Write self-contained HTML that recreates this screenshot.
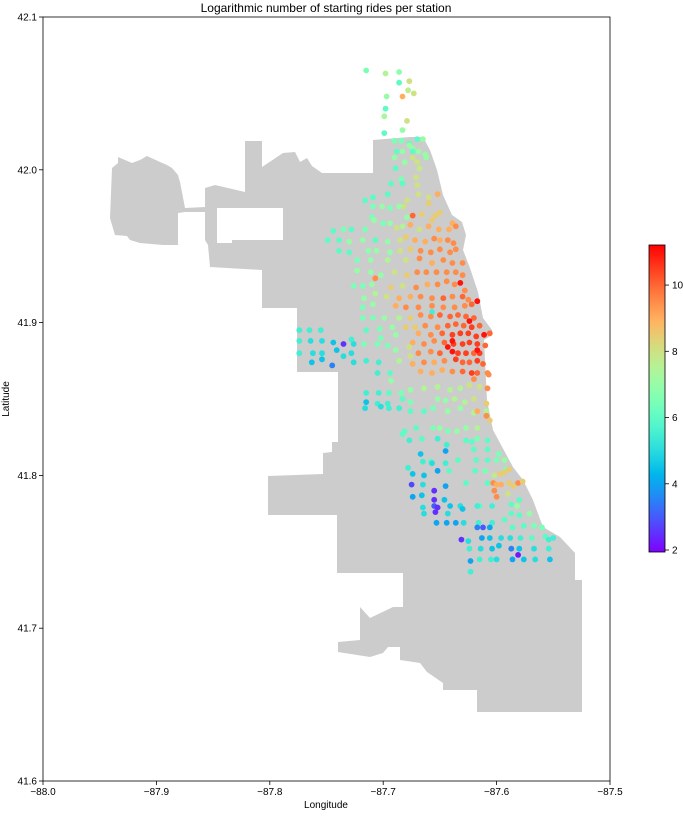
<!DOCTYPE html>
<html><head><meta charset="utf-8">
<style>
html,body{margin:0;padding:0;background:#fff;}
svg{display:block;font-family:"Liberation Sans","DejaVu Sans",sans-serif;}
</style></head>
<body>
<svg id="chart" width="683" height="816" viewBox="0 0 683 816" xmlns="http://www.w3.org/2000/svg">
<text x="326" y="12" font-size="12" text-anchor="middle" fill="#000">Logarithmic number of starting rides per station</text>
<g id="map">
<path fill="#cccccc" d="M112,168 L118,163 L118,157 L125,160 L132,163 L140,160 L147,156 L160,162 L167,165 L172,168 L178,175 L180,182 L185,208 L205,207 L205,212 L185,212 L178,213 L178,245 L163,245 L140,243 L130,240 L127,236 L115,235 L112,225 L110,218 Z"/>
<path fill="#cccccc" fill-rule="evenodd" d="M245,141 L262,141 L262,167 L283,153 L295,152 L300,162 L307,158 L312,166 L322,173 L373,173 L373,140 L410,137 L423,137 L430,150 L437,170 L443,195 L452,215 L462,222 L466,235 L463,250 L470,268 L478,292 L483,318 L492,330 L492,335 L484,340 L485,360 L487,400 L493,430 L513,467 L523,480 L533,500 L543,527 L560,537 L575,553 L575,580 L582,580 L582,712 L477,712 L477,690 L443,690 L443,683 L427,672 L420,663 L400,660 L400,647 L388,647 L383,653 L370,657 L338,652 L338,642 L360,640 L360,607 L370,618 L393,607 L403,607 L403,573 L337,573 L337,515 L268,515 L268,476 L323,474 L323,453 L332,452 L332,442 L338,442 L338,372 L297,372 L297,308 L262,308 L262,270 L210,267 L208,245 L205,240 L205,188 L215,185 L245,192 Z M217,208 L283,208 L283,240 L232,240 L232,243 L217,243 Z"/>
</g>
<g id="points"></g>
<rect x="43" y="17" width="567" height="764" fill="none" stroke="#000" stroke-width="0.8"/>
<g id="xaxis"></g>
<g id="yaxis"></g>
<text x="326" y="808" font-size="10" text-anchor="middle">Longitude</text>
<text x="9" y="399" font-size="10" text-anchor="middle" transform="rotate(-90 9 399)">Latitude</text>
<defs><linearGradient id="cbg" x1="0" y1="1" x2="0" y2="0"></linearGradient></defs>
<g id="cbar"></g>
</svg>
<script>
const xTicks=[-88.0,-87.9,-87.8,-87.7,-87.6,-87.5];
const yTicks=[41.6,41.7,41.8,41.9,42.0,42.1];
const cTicks=[2,4,6,8,10];
const lons=[
-87.715,-87.698,-87.686,-87.686,-87.677,-87.673,-87.678,-87.683,-87.697,-87.698,-87.699,-87.679,-87.699,-87.683,
-87.690,-87.684,-87.677,-87.670,-87.665,-87.677,-87.674,-87.688,-87.683,-87.674,-87.669,-87.663,-87.690,-87.674,-87.662,-87.681,-87.689,-87.670,-87.668,-87.671,-87.684,-87.693,-87.683,-87.670,-87.652,-87.669,
-87.716,-87.709,-87.696,-87.679,-87.682,-87.660,-87.660,-87.709,-87.701,-87.694,-87.686,
-87.679,-87.674,-87.666,-87.654,-87.650,-87.657,-87.639,-87.636,-87.710,-87.708,-87.700,-87.694,-87.688,-87.683,-87.676,-87.668,-87.660,-87.651,-87.642,-87.744,-87.735,-87.728,-87.716,
-87.749,-87.739,-87.730,-87.718,-87.707,-87.696,-87.685,-87.680,-87.672,-87.663,-87.655,-87.650,-87.643,-87.638,
-87.739,-87.730,-87.713,-87.706,-87.694,-87.685,-87.676,-87.667,-87.658,-87.650,-87.641,-87.636,
-87.723,-87.711,-87.696,-87.680,-87.668,-87.657,-87.647,-87.639,-87.630,
-87.723,-87.711,-87.702,-87.690,-87.679,-87.670,-87.662,-87.653,-87.644,-87.636,-87.630,-87.632,-87.707,
-87.726,-87.718,-87.710,-87.693,-87.683,-87.671,-87.661,-87.652,-87.644,-87.637,-87.628,
-87.707,-87.697,-87.686,-87.676,-87.667,-87.657,-87.647,-87.639,-87.630,-87.625,-87.717,
-87.718,-87.709,-87.689,-87.680,-87.669,-87.657,-87.647,-87.637,-87.628,-87.622,-87.617,-87.657,
-87.718,-87.709,-87.699,-87.686,-87.676,-87.667,-87.658,-87.650,-87.641,-87.634,-87.627,-87.620,
-87.715,-87.703,-87.692,-87.680,-87.672,-87.663,-87.652,-87.643,-87.636,-87.629,-87.622,-87.615,-87.624,
-87.669,-87.658,-87.648,-87.639,-87.632,-87.625,-87.618,-87.611,-87.606,
-87.674,-87.664,-87.655,-87.646,-87.643,-87.638,-87.630,-87.624,-87.617,-87.610,-87.639,
-87.669,-87.658,-87.650,-87.639,-87.634,-87.627,-87.620,-87.615,-87.617,
-87.664,-87.655,-87.646,-87.636,-87.630,-87.624,-87.617,-87.612,
-87.667,-87.657,-87.648,-87.639,-87.630,-87.622,-87.617,-87.608,-87.620,-87.607,
-87.774,-87.765,-87.755,-87.774,-87.764,-87.754,-87.744,-87.735,-87.726,-87.717,-87.774,-87.762,-87.754,-87.741,-87.735,-87.728,-87.763,-87.754,-87.745,-87.726,-87.715,-87.704,-87.705,-87.696,-87.702,-87.689,-87.728,
-87.705,-87.694,-87.693,-87.689,-87.686,-87.677,-87.676,-87.674,
-87.715,-87.704,-87.695,-87.684,-87.676,-87.664,-87.652,-87.641,-87.632,-87.624,-87.615,-87.608,
-87.715,-87.705,-87.696,-87.683,-87.676,-87.652,-87.645,-87.637,-87.628,-87.620,
-87.716,-87.702,-87.695,-87.686,-87.676,-87.664,-87.656,-87.643,-87.632,-87.620,-87.609,-87.606,-87.617,-87.609,
-87.683,-87.681,-87.671,-87.656,-87.650,-87.643,-87.635,-87.627,-87.617,-87.609,
-87.677,-87.666,-87.652,-87.644,-87.627,-87.622,-87.617,-87.608,
-87.667,-87.658,-87.645,-87.620,-87.608,-87.598,
-87.678,-87.665,-87.657,-87.645,-87.634,-87.618,-87.608,-87.600,-87.593,-87.592,
-87.674,-87.664,-87.652,-87.642,-87.619,-87.610,-87.602,-87.597,-87.593,-87.589,
-87.675,-87.665,-87.655,-87.645,-87.627,-87.608,-87.603,-87.600,-87.596,-87.589,-87.581,-87.585,-87.577,
-87.674,-87.666,-87.655,-87.646,-87.602,-87.600,-87.590,
-87.665,-87.655,-87.652,-87.641,-87.632,-87.615,-87.604,-87.587,-87.582,-87.580,
-87.664,-87.654,-87.643,-87.630,-87.617,
-87.653,-87.644,-87.636,-87.629,-87.616,-87.604,-87.593,-87.587,-87.580,-87.571,
-87.617,-87.612,-87.606,-87.586,-87.576,-87.567,-87.560,-87.550,
-87.631,-87.625,-87.613,-87.606,-87.596,-87.588,-87.579,-87.569,-87.557,-87.554,
-87.624,-87.614,-87.604,-87.598,-87.587,-87.580,-87.581,-87.567,-87.554,
-87.623,-87.615,-87.605,-87.600,-87.586,-87.576,-87.566,-87.553,-87.623
];
const lats=[
42.065,42.063,42.064,42.057,42.058,42.050,42.052,42.048,42.048,42.040,42.035,42.032,42.024,42.026,
42.019,42.019,42.017,42.020,42.020,42.016,42.014,42.012,42.012,42.012,42.012,42.010,42.008,42.008,42.008,42.005,42.001,42.005,42.001,41.995,41.994,41.991,41.991,41.990,41.984,41.984,
41.980,41.982,41.984,41.980,41.976,41.978,41.982,41.976,41.976,41.975,41.976,
41.969,41.970,41.971,41.970,41.972,41.967,41.965,41.963,41.969,41.967,41.965,41.965,41.962,41.963,41.964,41.961,41.963,41.961,41.961,41.960,41.961,41.961,41.961,
41.954,41.954,41.953,41.954,41.954,41.953,41.954,41.956,41.954,41.953,41.955,41.954,41.954,41.952,
41.947,41.946,41.947,41.947,41.946,41.947,41.948,41.947,41.946,41.948,41.946,41.948,
41.941,41.941,41.941,41.941,41.942,41.939,41.941,41.939,41.939,
41.934,41.933,41.931,41.933,41.931,41.933,41.933,41.933,41.933,41.933,41.931,41.926,41.929,
41.924,41.924,41.925,41.923,41.924,41.923,41.925,41.925,41.927,41.925,41.921,
41.919,41.917,41.916,41.917,41.917,41.916,41.916,41.917,41.917,41.915,41.916,
41.910,41.912,41.911,41.910,41.910,41.911,41.910,41.910,41.911,41.912,41.914,41.907,
41.903,41.903,41.903,41.903,41.903,41.905,41.904,41.905,41.904,41.905,41.904,41.903,
41.895,41.896,41.897,41.897,41.897,41.898,41.897,41.898,41.899,41.898,41.897,41.898,41.901,
41.893,41.892,41.893,41.892,41.893,41.893,41.891,41.892,41.893,
41.887,41.886,41.888,41.887,41.884,41.886,41.886,41.887,41.886,41.885,41.888,
41.880,41.881,41.880,41.881,41.880,41.880,41.880,41.880,41.882,
41.874,41.874,41.875,41.876,41.874,41.874,41.875,41.873,
41.868,41.867,41.869,41.868,41.868,41.867,41.867,41.867,41.863,41.866,
41.895,41.895,41.895,41.888,41.888,41.888,41.887,41.886,41.886,41.886,41.880,41.880,41.880,41.882,41.878,41.880,41.874,41.876,41.872,41.874,41.875,41.874,41.886,41.885,41.890,41.892,41.889,
41.867,41.867,41.862,41.882,41.875,41.884,41.878,41.873,
41.854,41.854,41.854,41.854,41.856,41.857,41.858,41.856,41.857,41.859,41.858,41.857,
41.848,41.847,41.847,41.850,41.848,41.850,41.849,41.850,41.848,41.850,
41.844,41.845,41.844,41.844,41.842,41.842,41.844,41.842,41.844,41.841,41.842,41.836,41.842,41.847,
41.827,41.829,41.831,41.831,41.831,41.829,41.829,41.831,41.831,41.839,
41.823,41.824,41.824,41.820,41.823,41.822,41.824,41.823,
41.814,41.809,41.816,41.817,41.817,41.814,
41.805,41.809,41.808,41.808,41.810,41.810,41.810,41.810,41.810,41.804,
41.801,41.800,41.803,41.803,41.803,41.803,41.800,41.801,41.802,41.804,
41.794,41.794,41.790,41.793,41.795,41.795,41.795,41.794,41.794,41.795,41.795,41.793,41.796,
41.786,41.787,41.784,41.784,41.790,41.786,41.788,
41.779,41.780,41.779,41.780,41.780,41.780,41.780,41.781,41.780,41.784,
41.775,41.776,41.775,41.778,41.780,
41.769,41.769,41.769,41.769,41.769,41.769,41.771,41.775,41.774,41.775,
41.766,41.766,41.766,41.766,41.767,41.767,41.766,41.759,
41.758,41.757,41.759,41.759,41.759,41.759,41.759,41.759,41.760,41.758,
41.752,41.752,41.752,41.754,41.752,41.752,41.748,41.752,41.752,
41.744,41.745,41.745,41.745,41.745,41.745,41.745,41.745,41.737
];
const vals=[
6.5,7.5,6.8,6,8,8,7.7,9,7,6,7.3,8,6,7,
6.5,6.5,6,6,7,7,7,6,7,6,7,7,7,8,7,7,6,8,7.8,8,6.5,6,6,8,9,8,
6,6,6,8,8,8.5,8,6.5,7,6.5,7,
7,10,8.5,8.5,8.5,8.5,9,9.5,6.5,7,6.5,7,8,7.5,9,8,9,9,9,6,6.5,6,6.5,
6,6,7,7,6,7,8,8.5,9,9,9.5,9,9.5,9.5,
6,6,6.8,7,7,8,8.5,9.5,9.5,9.5,9.5,9.5,
6.5,7,7.5,8,9.5,9,9.5,9.5,9.5,
7,7,7,8,8.5,9.5,9.5,9.5,9.5,9.5,9.5,11,9.5,
6.5,6.5,7,8.5,8,9.5,9,9.5,9.5,9.5,9.5,
7.5,8,9,9,9.5,9.5,10,9.5,10,9.5,7,
6.5,7,9,9.5,9.5,9.5,9.5,9.5,9.5,10,11,5.5,
6.5,6.5,7,7.5,8.5,9.5,9.5,10,10,10,10,10,
6,6.5,7,8.5,8.5,9.5,9.5,10,10,10,10.5,10,11,
9,9.5,10,10.5,10.5,10.5,10.5,11,10,
9,9.5,9.5,10,11,10.5,10.5,10.5,10.5,10,11,
9.5,9.5,10,11,10.5,10.5,10,10.5,11,
9.5,9,9.5,10.5,10,10,10.5,10,
9,9,9,9.5,10,10.5,10,9.5,9.5,9.5,
5.5,5.5,5.5,5.5,5,5,4.5,2.5,5,6.5,5.5,5,5,4.5,5,5,4.5,4.5,3.5,5,5.5,5.5,6.5,6.5,6.5,7,5.5,
5.5,6,7,7,7.5,8,8,9,
5.5,5.5,6,6.5,7,7.5,7.5,7.5,7.5,8,8,9.5,
4.5,5.5,5.5,6,6.5,7,7,7.5,7.5,8,
5,5,5.5,5.5,6,6,6.5,7,7,7.5,7.5,8.5,9,8.5,
6,6,6,6.5,7,6.5,7,7,7.5,9.5,
5.5,6,5.5,5.5,6,6,6.5,6,
4.5,6,4,6,6,6.5,
5.5,5.5,5,5.5,6,6,6,6.5,7,6.5,
4.5,4.5,4,6,6,6.5,7.8,8.5,8.5,8.5,
2.8,5,2.5,4,6,6,9.5,9,9,8.5,9.5,8.5,8.5,
4,4.5,2.5,4.5,9.5,9.5,8,
5,3,2.5,4.5,5,6,5.5,6,7,6,
5,2.5,5,4.5,5.5,
4,4,4,5,5.5,5.5,6,6,6,7,
3.5,3,4,6,6,6.5,6.5,5.5,
2.5,5,4,4.5,5,5,5.5,6,6,5.5,
5.5,5,4.5,4.5,3.5,4.5,2.2,5,5.5,
4,5.5,5.5,5,4,4.5,5,4.5,5.5
];
const NS='http://www.w3.org/2000/svg';
const X0=43,X1=610,Y0=781,Y1=17;
const lonMin=-88.0,lonMax=-87.5,latMin=41.6,latMax=42.1;
const vMin=1.94,vMax=11.21;
function xs(l){return X0+(l-lonMin)/(lonMax-lonMin)*(X1-X0);}
function ys(l){return Y0-(l-latMin)/(latMax-latMin)*(Y0-Y1);}
function rainbow(t){t=Math.max(0,Math.min(1,t));
 const r=Math.min(1,Math.abs(2*t-0.5)),g=Math.sin(Math.PI*t),b=Math.cos(Math.PI*t/2);
 return 'rgb('+Math.round(r*255)+','+Math.round(g*255)+','+Math.round(b*255)+')';}
function mk(tag,attrs,parent){const e=document.createElementNS(NS,tag);for(const k in attrs)e.setAttribute(k,attrs[k]);parent.appendChild(e);return e;}
const pg=document.getElementById('points');
for(let i=0;i<lons.length;i++){
 const c=mk('circle',{cx:xs(lons[i]).toFixed(1),cy:ys(lats[i]).toFixed(1),r:2.9,fill:rainbow((vals[i]-vMin)/(vMax-vMin))},pg);
 
 
}
const xa=document.getElementById('xaxis');
xTicks.forEach(v=>{const x=xs(v);
 const l=mk('line',{x1:x,x2:x,y1:Y0,y2:Y0+4,stroke:'#000','stroke-width':0.8},xa);
 
 
 const t=mk('text',{x:x,y:Y0+14,'font-size':10,'text-anchor':'middle'},xa);
 
 
 t.textContent='\u2212'+Math.abs(v).toFixed(1);});
const ya=document.getElementById('yaxis');
yTicks.forEach(v=>{const y=ys(v);
 const l=mk('line',{x1:X0-4,x2:X0,y1:y,y2:y,stroke:'#000','stroke-width':0.8},ya);
 
 
 const t=mk('text',{x:X0-6,y:y+3.5,'font-size':10,'text-anchor':'end'},ya);
 
 
 t.textContent=v.toFixed(1);});
const grad=document.getElementById('cbg');
for(let i=0;i<=20;i++){mk('stop',{offset:(i/20),'stop-color':rainbow(i/20)},grad);}
const cb=document.getElementById('cbar');
const CB0=552,CB1=245,CX=649,CW=16;
function cy(v){return CB0-(v-vMin)/(vMax-vMin)*(CB0-CB1);}
const cr=mk('rect',{x:CX,y:CB1,width:CW,height:CB0-CB1,fill:'url(#cbg)',stroke:'#000','stroke-width':0.8},cb);


cTicks.forEach(v=>{const y=cy(v);
 const l=mk('line',{x1:CX+CW,x2:CX+CW+4,y1:y,y2:y,stroke:'#000','stroke-width':0.8},cb);
 
 
 const t=mk('text',{x:CX+CW+7,y:y+3.5,'font-size':10},cb);
 
 
 t.textContent=String(v);});
</script>
</body></html>
